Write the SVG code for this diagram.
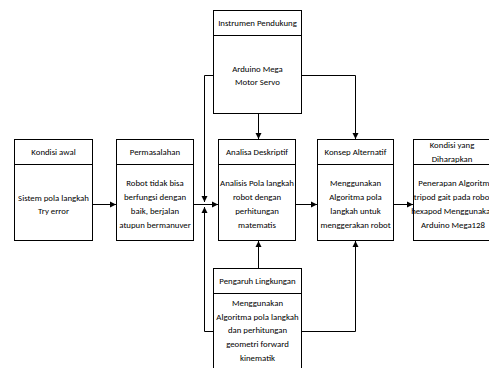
<svg xmlns="http://www.w3.org/2000/svg" width="489" height="368" viewBox="0 0 489 368">
<style>
.box{fill:#fff;stroke:#000;stroke-width:1}
.ln{fill:none;stroke:#000;stroke-width:1}
text{font-family:"Carlito","Liberation Sans Narrow","Liberation Sans",sans-serif;font-size:8.8px;fill:#000;text-anchor:middle;dominant-baseline:central}
</style>
<defs>
<marker id="ah" markerUnits="userSpaceOnUse" markerWidth="7" markerHeight="7" refX="6" refY="3.5" orient="auto">
<path d="M0,0.5 L6,3.5 L0,6.5 Z" fill="#000"/>
</marker>
</defs>
<rect width="489" height="368" fill="#fff"/>
<g id="connectors">
<line class="ln" x1="92" y1="204.5" x2="116" y2="204.5" marker-end="url(#ah)"/>
<line class="ln" x1="193" y1="204.5" x2="218" y2="204.5" marker-end="url(#ah)"/>
<line class="ln" x1="295" y1="204.5" x2="317" y2="204.5" marker-end="url(#ah)"/>
<line class="ln" x1="393" y1="204.5" x2="413" y2="204.5" marker-end="url(#ah)"/>
<polyline class="ln" points="213,75.5 204.5,75.5 204.5,202" marker-end="url(#ah)"/>
<polyline class="ln" points="213,331.5 204.5,331.5 204.5,207" marker-end="url(#ah)"/>
<line class="ln" x1="258.5" y1="113" x2="258.5" y2="139" marker-end="url(#ah)"/>
<polyline class="ln" points="301,75.5 355.5,75.5 355.5,139" marker-end="url(#ah)"/>
<line class="ln" x1="258.5" y1="268" x2="258.5" y2="241" marker-end="url(#ah)"/>
<polyline class="ln" points="301,331.5 355.5,331.5 355.5,241" marker-end="url(#ah)"/>
</g>
<g id="kondisi-awal">
<rect class="box" x="14.5" y="139.5" width="78" height="101"/>
<line class="ln" x1="14.5" y1="164.5" x2="92.5" y2="164.5"/>
<text x="53.5" y="152">Kondisi awal</text>
<text x="53.5" y="198">Sistem pola langkah</text>
<text x="53.5" y="211">Try error</text>
</g>
<g id="permasalahan">
<rect class="box" x="116.5" y="139.5" width="77" height="101"/>
<line class="ln" x1="116.5" y1="164.5" x2="193.5" y2="164.5"/>
<text x="155" y="152">Permasalahan</text>
<text x="155" y="183">Robot tidak bisa</text>
<text x="155" y="197">berfungsi dengan</text>
<text x="155" y="211">baik, berjalan</text>
<text x="155" y="225">atupun bermanuver</text>
</g>
<g id="analisa">
<rect class="box" x="218.5" y="139.5" width="77" height="101"/>
<line class="ln" x1="218.5" y1="164.5" x2="295.5" y2="164.5"/>
<text x="257" y="152">Analisa Deskriptif</text>
<text x="257" y="183">Analisis Pola langkah</text>
<text x="257" y="197">robot dengan</text>
<text x="257" y="211">perhitungan</text>
<text x="257" y="225">matematis</text>
</g>
<g id="konsep">
<rect class="box" x="317.5" y="139.5" width="76" height="101"/>
<line class="ln" x1="317.5" y1="164.5" x2="393.5" y2="164.5"/>
<text x="355.5" y="152">Konsep Alternatif</text>
<text x="355.5" y="183">Menggunakan</text>
<text x="355.5" y="197">Algoritma pola</text>
<text x="355.5" y="211">langkah untuk</text>
<text x="355.5" y="225">menggerakan robot</text>
</g>
<g id="diharapkan">
<rect class="box" x="413.5" y="139.5" width="80" height="101"/>
<line class="ln" x1="413.5" y1="164.5" x2="493.5" y2="164.5"/>
<text x="452" y="145">Kondisi yang</text>
<text x="452" y="159">Diharapkan</text>
<text x="456" y="183">Penerapan Algoritma</text>
<text x="453" y="197">tripod gait pada robot</text>
<text x="453" y="211">hexapod Menggunakan</text>
<text x="453" y="225">Arduino Mega128</text>
</g>
<g id="instrumen">
<rect class="box" x="213.5" y="10.5" width="88" height="103"/>
<line class="ln" x1="213.5" y1="35.5" x2="301.5" y2="35.5"/>
<text x="257.5" y="23">Instrumen Pendukung</text>
<text x="257.5" y="69">Arduino Mega</text>
<text x="257.5" y="82">Motor Servo</text>
</g>
<g id="pengaruh">
<rect class="box" x="213.5" y="268.5" width="88" height="110"/>
<line class="ln" x1="213.5" y1="293.5" x2="301.5" y2="293.5"/>
<text x="257.5" y="281">Pengaruh Lingkungan</text>
<text x="257.5" y="303">Menggunakan</text>
<text x="257.5" y="317">Algoritma pola langkah</text>
<text x="257.5" y="330">dan perhitungan</text>
<text x="257.5" y="344">geometri forward</text>
<text x="257.5" y="358">kinematik</text>
</g>
</svg>
